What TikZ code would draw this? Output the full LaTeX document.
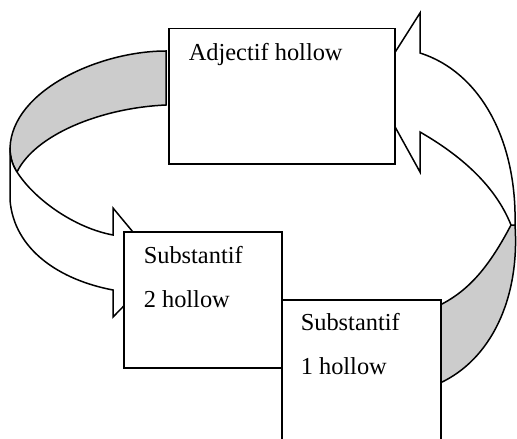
\documentclass[tikz,border=0pt]{standalone}
\usepackage{fontspec}
\setmainfont{Liberation Serif}
\usetikzlibrary{calc,positioning}
\definecolor{bandgray}{RGB}{204,204,204}

\begin{document}
\begin{tikzpicture}[x=0.5pt,y=-0.5pt,line width=0.75pt,line join=miter]
  \tikzstyle{box}=[rectangle,draw=black,fill=white,anchor=north west,inner sep=0pt]
  \tikzstyle{bandfront}=[draw=black,fill=white]
  \tikzstyle{bandback}=[draw=black,fill=bandgray]
  \tikzstyle{word}=[anchor=base west,inner sep=0pt,font=\fontsize{12.2}{14}\selectfont]

  \useasboundingbox (0,0) rectangle (517,438);
  \clip (0,0) rectangle (517,438);

  % grey back of the two bands
  \draw[bandback] (166,51) .. controls (100,51) and (12,90) .. (10,148)
     .. controls (10,158) and (13,166) .. (17,172)
     .. controls (35,135) and (100,108) .. (166,105) -- cycle;
  \draw[bandback] (515,225) .. controls (520,300) and (490,360) .. (440,383)
     -- (440,305) .. controls (470,290) and (490,265) .. (511,225) -- cycle;

  % white front, with the heads
  \draw[bandfront] (10,148) -- (10,200) .. controls (14,250) and (60,280) .. (113,290)
     -- (113,317) -- (162,267) -- (113,208) -- (113,235)
     .. controls (75,228) and (35,200) .. (17,172)
     .. controls (13,166) and (10,158) .. (10,148) -- cycle;
  \draw[bandfront] (420,53) -- (420,13) -- (373,87) -- (420,172) -- (420,132)
     .. controls (460,155) and (495,185) .. (511,225) -- (515,225)
     .. controls (517,140) and (480,72) .. (420,53) -- cycle;

  \node[box,minimum width=113pt,minimum height=67.5pt] (adj) at (168,28) {};
  \node[box,minimum width=79pt,minimum height=68pt] (subtwo) at (123,231) {};
  \node[box,minimum width=79.5pt,minimum height=80pt] (subone) at (281,299) {};

  \node[word] (adjtxt) at ($(adj.north west)+(20,33)$) {Adjectif hollow};
  \node[word] (subtwotxt) at ($(subtwo.north west)+(20,32)$) {Substantif};
  \node[word] (subtwonum) at ($(subtwotxt.base west)+(0,44)$) {2 hollow};
  \node[word] (subonetxt) at ($(subone.north west)+(19,31)$) {Substantif};
  \node[word] (subonenum) at ($(subonetxt.base west)+(0,44)$) {1 hollow};
\end{tikzpicture}
\end{document}
